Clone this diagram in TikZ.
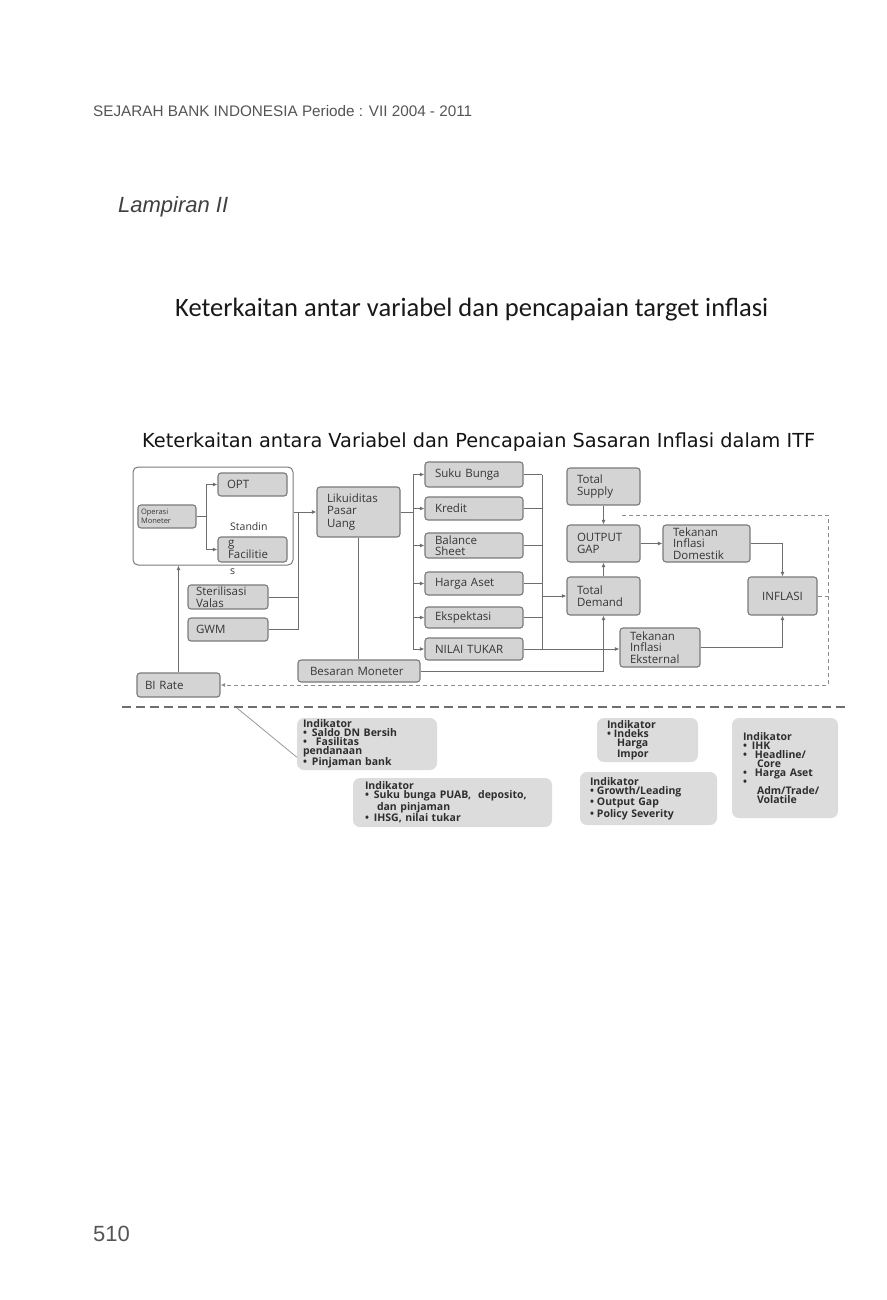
\documentclass[tikz,border=0pt]{standalone}
\usepackage{fontspec}
\usepackage{graphicx}
\setmainfont{Open Sans}
\newfontfamily\boxfont{Open Sans}
\newfontfamily\hdrfont{Liberation Sans}
\newfontfamily\ttlfont{Carlito}
\newfontfamily\dgfont{DejaVu Sans}
\usetikzlibrary{arrows.meta,calc}
\definecolor{boxfill}{HTML}{D4D4D4}
\definecolor{boxdraw}{HTML}{7A7A7A}
\definecolor{boxtext}{HTML}{363636}
\definecolor{lncol}{HTML}{6E6E6E}
\definecolor{indfill}{HTML}{DCDCDC}
\definecolor{indtext}{HTML}{2E2E2E}
\definecolor{hdrgray}{HTML}{555555}
\definecolor{dshcol}{HTML}{8C8C8C}
\newcommand\mybox[8]{\node[#7, minimum width={#4-#2}, minimum height={#5-#3}, inner xsep=#6pt, text width={#4-#2-2*#6}] (#1) at ({(#2+#4)/2},{(#3+#5)/2}) {#8};}
\begin{document}
\begin{tikzpicture}[x=1pt,y=-1pt,
  bx/.style={draw=boxdraw, fill=boxfill, line width=1.1pt, rounded corners=3pt, inner ysep=0pt, align=left, text=boxtext, font={\boxfont\fontsize{11.5}{11.5}\selectfont}},
  ind/.style={fill=indfill, rounded corners=7pt, inner ysep=1pt, align=left, text=indtext, font={\boxfont\bfseries\fontsize{10.5}{9}\selectfont}},
  lbl/.style={inner sep=0pt, text=boxtext, font={\boxfont\fontsize{10.5}{11.5}\selectfont}},
  ln/.style={draw=lncol, line width=0.9pt},
  arr/.style={ln, -{Latex[length=4.5pt,width=4pt]}},
  dsh/.style={draw=dshcol, line width=1pt, dash pattern=on 4pt off 3pt},
  sep/.style={draw=lncol, line width=1.8pt, dash pattern=on 9pt off 5pt}]
\useasboundingbox (0,0) rectangle (886,1300);
\fill[white] (0,0) rectangle (886,1300);

% page texts
\node[anchor=base west, inner sep=0pt, text=hdrgray] (hdr) at (93,117) {\resizebox{379pt}{!}{\hdrfont\fontsize{14.5}{17}\selectfont SEJARAH BANK INDONESIA Periode : VII 2004 - 2011}};
\node[anchor=base west, inner sep=0pt, text=black!75] (lamp) at (118,212) {\hdrfont\itshape\fontsize{22}{26}\selectfont Lampiran II};
\node[anchor=base west, inner sep=0pt, text=black!90] (ttl) at (175,316) {\resizebox{593pt}{!}{\ttlfont\fontsize{24}{28}\selectfont Keterkaitan antar variabel dan pencapaian target inflasi}};
\node[anchor=base west, inner sep=0pt, text=black!92] (dttl) at (142,447) {\resizebox{673pt}{!}{\dgfont\fontsize{16}{19}\selectfont Keterkaitan antara Variabel dan Pencapaian Sasaran Inflasi dalam ITF}};
\node[anchor=base west, inner sep=0pt, text=hdrgray] (pg) at (93,1241) {\hdrfont\fontsize{22}{26}\selectfont 510};

% left group
\node[draw=boxdraw, line width=1pt, rounded corners=5pt, minimum width=160, minimum height=98, inner sep=0pt] (outer) at (213,516) {};
\mybox{om}{138}{505}{196}{528}{3}{bx,font={\boxfont\fontsize{7.5}{9}\selectfont}}{Operasi\\Moneter}
\mybox{opt}{218}{473}{287}{496}{9}{bx}{OPT}
\mybox{sf}{218}{537}{287}{562}{10}{bx}{g\\Facilitie}
\node[lbl, anchor=base west] (sfa) at (230,530) {Standin};
\node[lbl, anchor=base west] (sfb) at (230,574) {s};
\mybox{ster}{188}{585}{268}{609}{8}{bx}{Sterilisasi\\Valas}
\mybox{gwm}{188}{618}{268}{641}{8}{bx}{GWM}
\mybox{bir}{137}{673}{220}{697}{8}{bx}{BI Rate}

% middle
\mybox{lpu}{317}{487}{400}{537}{10}{bx,font={\boxfont\fontsize{11.5}{12.5}\selectfont}}{Likuiditas\\Pasar\\Uang}
\mybox{sb}{425}{462}{523}{487}{10}{bx}{Suku Bunga}
\mybox{kr}{425}{497}{523}{520}{10}{bx}{Kredit}
\mybox{bs}{425}{533}{523}{558}{10}{bx}{Balance\\Sheet}
\mybox{ha}{425}{572}{523}{595}{10}{bx}{Harga Aset}
\mybox{ek}{425}{607}{523}{628}{10}{bx}{Ekspektasi}
\mybox{nt}{425}{638}{523}{660}{10}{bx}{NILAI TUKAR}
\mybox{bm}{298}{660}{420}{682}{12}{bx}{Besaran Moneter}

% right
\mybox{ts}{567}{468}{640}{505}{10}{bx}{Total\\Supply}
\mybox{og}{567}{525}{640}{562}{10}{bx}{OUTPUT\\GAP}
\mybox{td}{567}{577}{640}{615}{10}{bx}{Total\\Demand}
\mybox{tid}{663}{525}{750}{562}{10}{bx}{Tekanan\\Inflasi\\Domestik}
\mybox{inf}{748}{577}{817}{615}{6}{bx,align=center}{INFLASI}
\mybox{tie}{620}{628}{700}{667}{10}{bx}{Tekanan\\Inflasi\\Eksternal}

% connectors left
\draw[arr] (om.east) -- ++(10,0) |- (opt.west);
\draw[arr] (om.east) -- ++(10,0) |- (sf.west);
\coordinate (busL) at (298,0);
\draw[arr] (outer.east |- lpu.west) -- (lpu.west);
\draw[ln] (busL |- lpu.west) |- (gwm.east);
\draw[ln] (ster.east) -- (ster.east -| busL);
\draw[arr] (bir.north) -- (bir.north |- outer.south);

% connectors middle
\coordinate (busM) at (413,0);
\draw[ln] (lpu.east) -- (lpu.east -| busM);
\draw[ln] (busM |- sb.west) -- (busM |- nt.west);
\foreach \n in {sb,kr,bs,ha,ek,nt} \draw[arr] (busM |- \n.west) -- (\n.west);
\draw[ln] (lpu.south) -- (lpu.south |- bm.north);
\coordinate (busR) at (542,0);
\foreach \n in {sb,kr,bs,ha,ek} \draw[ln] (\n.east) -- (\n.east -| busR);
\draw[ln] (busR |- sb.east) -- (busR |- nt.east);
\draw[arr] (nt.east) -- (nt.east -| tie.west);
\draw[arr] (busR |- td.west) -- (td.west);
\draw[arr] (bm.east) -| (td.south);

% connectors right
\draw[arr] (ts.south) -- (og.north);
\draw[arr] (td.north) -- (og.south);
\draw[arr] (og.east) -- (tid.west);
\draw[arr] (tid.east) -| (inf.north);
\draw[arr] (tie.east) -| (inf.south);

% dashed feedback
\coordinate (dTL) at (622,515);
\coordinate (dTR) at (828,515);
\draw[dsh, -{Latex[length=4.5pt,width=4pt]}] (dTL) -- (dTR) -- (dTR |- bir.east) -- (bir.east);
\draw[dsh] (inf.east) -- (inf.east -| dTR);

% separator
\coordinate (sepL) at (122,707);
\coordinate (sepR) at (848,707);
\draw[sep] (sepL) -- (sepR);

% indicator boxes
\mybox{indA}{297}{718}{437}{770}{6}{ind}{Indikator\\\textbullet\hspace{5pt}Saldo DN Bersih\\\textbullet\hspace{9pt}Fasilitas\\pendanaan\\\textbullet\hspace{5pt}Pinjaman bank}
\mybox{indB}{353}{778}{552}{827}{12}{ind}{Indikator\\\textbullet\hspace{5pt}Suku bunga PUAB,\ \ deposito,\\\hspace*{12pt}dan pinjaman\\\textbullet\hspace{5pt}IHSG, nilai tukar}
\mybox{indC}{597}{718}{698}{762}{10}{ind}{Indikator\\\textbullet\hspace{3pt}Indeks\\\hspace*{10pt}Harga\\\hspace*{10pt}Impor}
\mybox{indD}{580}{772}{717}{825}{10}{ind}{Indikator\\\textbullet\hspace{3pt}Growth/Leading\\\textbullet\hspace{3pt}Output Gap\\\textbullet\hspace{3pt}Policy Severity}
\mybox{indE}{732}{718}{838}{818}{11}{ind}{Indikator\\\textbullet\hspace{5pt}IHK\\\textbullet\hspace{8pt}Headline/\\\hspace*{14pt}Core\\\textbullet\hspace{8pt}Harga Aset\\\textbullet\\\hspace*{14pt}Adm/Trade/\\\hspace*{14pt}Volatile}
\coordinate (sepP) at (237,708);
\draw[draw=lncol!70, line width=0.8pt] (sepP) -- ($(indA.south west)+(0,-13)$);
\end{tikzpicture}
\end{document}
